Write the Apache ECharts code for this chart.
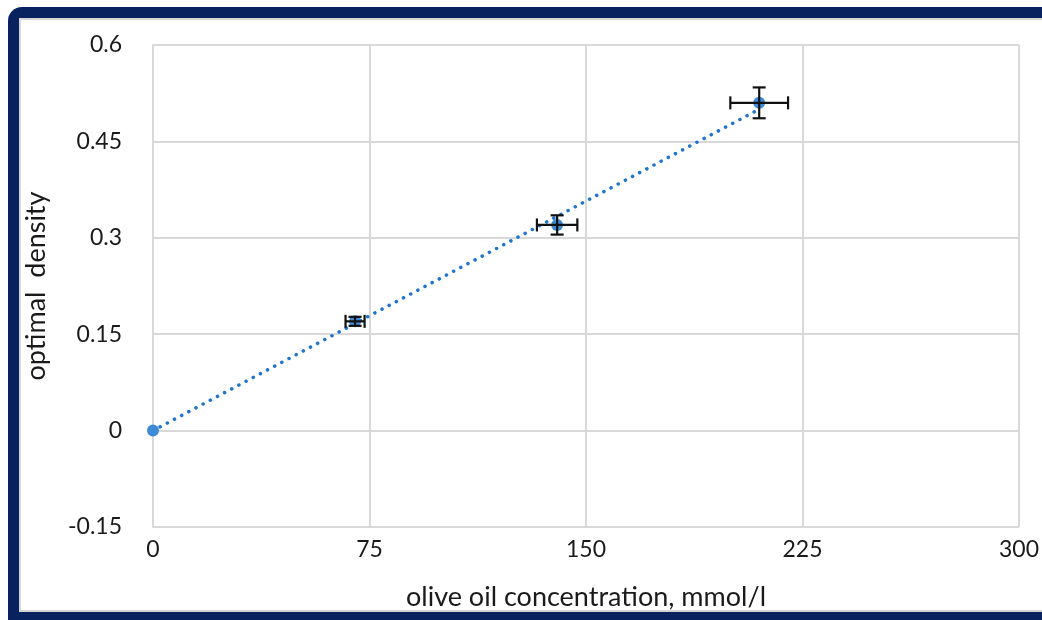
<!DOCTYPE html>
<html>
<head>
<meta charset="utf-8">
<script src="https://cdn.jsdelivr.net/npm/echarts@6/dist/echarts.min.js"></script>
<style>
  html, body { margin: 0; padding: 0; background: #ffffff; overflow: hidden; }
  .wrap { position: relative; width: 1042px; height: 620px; overflow: hidden; background: #ffffff; }
  .frame {
    position: absolute; left: 8px; top: 7px; width: 1034px; height: 613px;
    border-left: 11px solid #082260; border-top: 11px solid #082260; border-bottom: 8px solid #082260;
    border-radius: 14px 0 0 0; box-sizing: border-box;
  }
  .inner {
    position: absolute; left: 19px; top: 18px; width: 1023px; height: 594px;
    border-left: 2px solid #d6d6d6; border-top: 2px solid #d6d6d6; border-bottom: 2px solid #d6d6d6;
    box-sizing: border-box;
  }
  #chart { position: absolute; left: 0; top: 0; width: 1042px; height: 620px; }
</style>
</head>
<body>
<div class="wrap">
  <div class="frame"></div>
  <div class="inner"></div>
  <div id="chart"></div>
</div>
<script>
// concentration (mmol/l) and optical density readings
const conc = [0, 70, 140, 210]
const density = [0, 0.17, 0.32, 0.51]
const concErr = [0, 3.3, 7, 10]
const densityErr = [0, 0.007, 0.015, 0.024]
// linear trendline through the origin
const trendX = [0, 210]
const trendY = [0, 0.5]

const chart = echarts.init(document.getElementById('chart'))

const font = 'Lato, "Open Sans", sans-serif'

const errData = conc.map((x, i) => [x, density[i], concErr[i], densityErr[i]])
  .filter(d => d[2] > 0 || d[3] > 0)

const option = {
  animation: false,
  textStyle: { fontFamily: font },
  grid: { left: 153, right: 20, top: 45, bottom: 93 },
  xAxis: {
    type: 'value',
    min: 0,
    max: 300,
    interval: 75,
    name: 'olive oil concentration, mmol/l',
    nameLocation: 'middle',
    nameGap: 57,
    nameTextStyle: { color: '#1a1a1a', fontSize: 27, fontFamily: font },
    axisLine: { show: true, lineStyle: { color: '#d9d9d9', width: 2 } },
    axisTick: { show: false },
    axisLabel: { color: '#1a1a1a', fontSize: 23, margin: 11, fontFamily: font },
    splitLine: { show: true, lineStyle: { color: '#d9d9d9', width: 2 } }
  },
  yAxis: {
    type: 'value',
    min: -0.15,
    max: 0.6,
    interval: 0.15,
    name: 'optimal  density',
    nameLocation: 'middle',
    nameGap: 103,
    nameTextStyle: { color: '#1a1a1a', fontSize: 27, fontFamily: font },
    axisLine: { show: true, lineStyle: { color: '#d9d9d9', width: 2 } },
    axisTick: { show: false },
    axisLabel: {
      color: '#1a1a1a', fontSize: 23, margin: 31, fontFamily: font,
      formatter: v => String(+v.toFixed(2))
    },
    splitLine: { show: true, lineStyle: { color: '#d9d9d9', width: 2 } }
  },
  series: [
    {
      name: 'trend',
      type: 'line',
      data: trendX.map((x, i) => [x, trendY[i]]),
      symbol: 'none',
      z: 2,
      lineStyle: { color: '#1f74cf', width: 3.5, type: [0.1, 8], cap: 'round' }
    },
    {
      name: 'density',
      type: 'scatter',
      data: conc.map((x, i) => [x, density[i]]),
      symbolSize: 12,
      z: 3,
      itemStyle: { color: '#3f8ad6', opacity: 1 }
    },
    {
      name: 'error',
      type: 'custom',
      z: 4,
      data: errData,
      renderItem(params, api) {
        const x = api.value(0), y = api.value(1)
        const ex = api.value(2), ey = api.value(3)
        const c = api.coord([x, y])
        const l = api.coord([x - ex, y])
        const r = api.coord([x + ex, y])
        const t = api.coord([x, y + ey])
        const b = api.coord([x, y - ey])
        const cap = 6.5
        const style = { stroke: '#111111', lineWidth: 2.2 }
        const line = (x1, y1, x2, y2) => ({
          type: 'line', shape: { x1, y1, x2, y2 }, style
        })
        return {
          type: 'group',
          children: [
            line(l[0], c[1], r[0], c[1]),
            line(l[0], c[1] - cap, l[0], c[1] + cap),
            line(r[0], c[1] - cap, r[0], c[1] + cap),
            line(c[0], t[1], c[0], b[1]),
            line(c[0] - cap, t[1], c[0] + cap, t[1]),
            line(c[0] - cap, b[1], c[0] + cap, b[1])
          ]
        }
      }
    }
  ]
}

chart.setOption(option)
</script>
</body>
</html>
